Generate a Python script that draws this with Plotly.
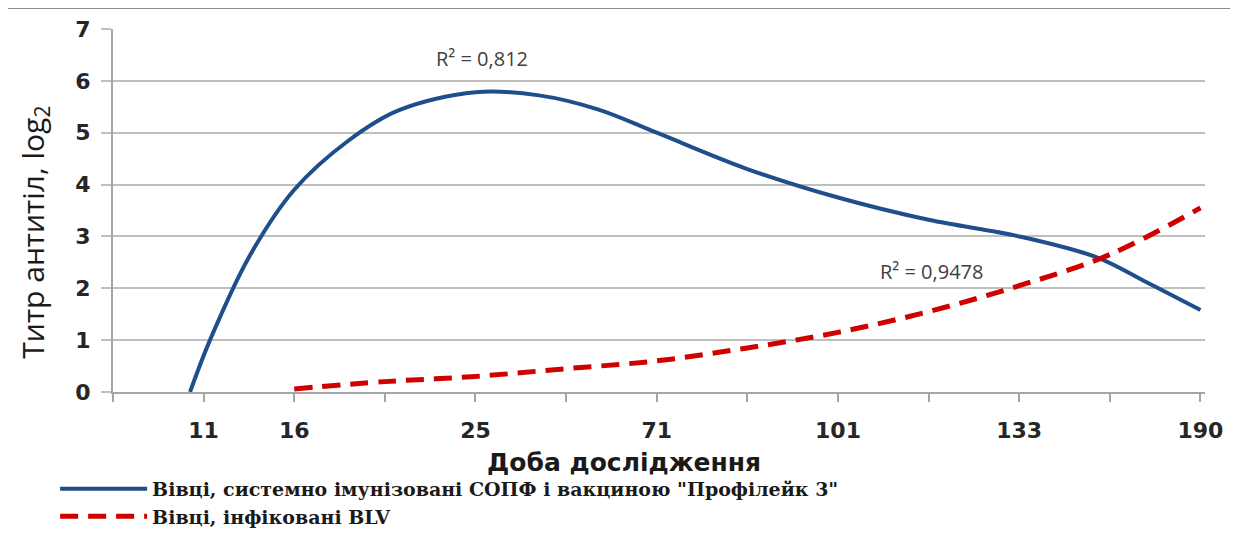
import plotly.graph_objects as go

# category positions along the day axis (12 equal intervals)
tick_pos = list(range(0, 13))
tick_labels = ["", "11", "16", "", "25", "", "71", "", "101", "", "133", "", "190"]

# blue: immunised sheep (trend)
blue_x = [0.85, 1.07, 1.5, 2.0, 2.6, 3.15, 4.0, 4.7, 5.35, 6.0, 7.0, 8.0, 9.0, 10.0, 10.85, 11.4, 12.0]
blue_y = [0.0, 1.0, 2.6, 3.9, 4.85, 5.43, 5.78, 5.72, 5.45, 5.0, 4.3, 3.75, 3.32, 3.0, 2.6, 2.12, 1.58]

# red: BLV-infected sheep
red_x = [2.0, 3.0, 4.0, 5.0, 6.0, 7.0, 8.0, 9.0, 10.0, 11.0, 12.0]
red_y = [0.06, 0.2, 0.3, 0.45, 0.6, 0.85, 1.15, 1.55, 2.05, 2.65, 3.55]

name_blue = 'Вівці, системно імунізовані СОПФ і вакциною "Профілейк 3"'
name_red = "Вівці, інфіковані BLV"

fig = go.Figure()
fig.add_trace(go.Scatter(x=blue_x, y=blue_y, mode="lines", name=name_blue,
                         line=dict(color="#1f4e8c", width=4, shape="spline", smoothing=1.0)))
fig.add_trace(go.Scatter(x=red_x, y=red_y, mode="lines", name=name_red,
                         line=dict(color="#d00000", width=5, dash="18px,10px", shape="spline", smoothing=1.0)))

fig.update_layout(
    width=1245, height=542,
    margin=dict(l=105, r=48, t=21, b=158, autoexpand=False),
    plot_bgcolor="white", paper_bgcolor="white",
    showlegend=True,
    legend=dict(x=-0.053, y=0.148, xref="paper", yref="container", xanchor="left", yanchor="top",
                font=dict(family="DejaVu Serif", size=19, color="#1a1a1a", weight="bold"),
                tracegroupgap=0, itemwidth=87, bgcolor="rgba(0,0,0,0)"),
    xaxis=dict(range=[0, 12.05], tickvals=tick_pos, ticktext=tick_labels,
               ticks="outside", ticklen=8, tickcolor="#a6a6a6", tickwidth=2,
               showline=True, linecolor="#a6a6a6", linewidth=2,
               showgrid=False, zeroline=False, ticklabelstandoff=10,
               tickfont=dict(family="DejaVu Sans", size=22, color="#262626", weight="bold")),
    yaxis=dict(range=[0, 7], tickvals=[0, 1, 2, 3, 4, 5, 6, 7],
               ticks="outside", ticklen=10, tickcolor="#bfbfbf", tickwidth=2,
               showline=True, linecolor="#a6a6a6", linewidth=2,
               showgrid=True, gridcolor="#bfbfbf", gridwidth=2, zeroline=False,
               ticklabelstandoff=6,
               tickfont=dict(family="DejaVu Sans", size=22, color="#262626", weight="bold")),
)

# axis titles as annotations (positions as in the reference)
fig.add_annotation(x=0.468, y=-0.193, xref="paper", yref="paper", xanchor="center", yanchor="middle",
                   text="<b>Доба дослідження</b>", showarrow=False,
                   font=dict(family="DejaVu Sans", size=25, color="#1a1a1a"))
fig.add_annotation(x=-0.072, y=0.44, xref="paper", yref="paper", xanchor="center", yanchor="middle",
                   text="Титр антитіл, log<sub>2</sub>", textangle=-90, showarrow=False,
                   font=dict(family="Open Sans", size=30, color="#1a1a1a"))

fig.add_annotation(x=4.07, y=6.44, xref="x", yref="y", text="R² = 0,812", showarrow=False,
                   font=dict(family="Open Sans", size=20, color="#404040"))
fig.add_annotation(x=9.03, y=2.33, xref="x", yref="y", text="R² = 0,9478", showarrow=False,
                   font=dict(family="Open Sans", size=20, color="#404040"))

# page border line at top
fig.add_shape(type="line", xref="paper", yref="paper", x0=-0.103, x1=1.023, y0=1.058, y1=1.058,
              line=dict(color="#8c8c8c", width=2))

fig.write_html("out.html")
